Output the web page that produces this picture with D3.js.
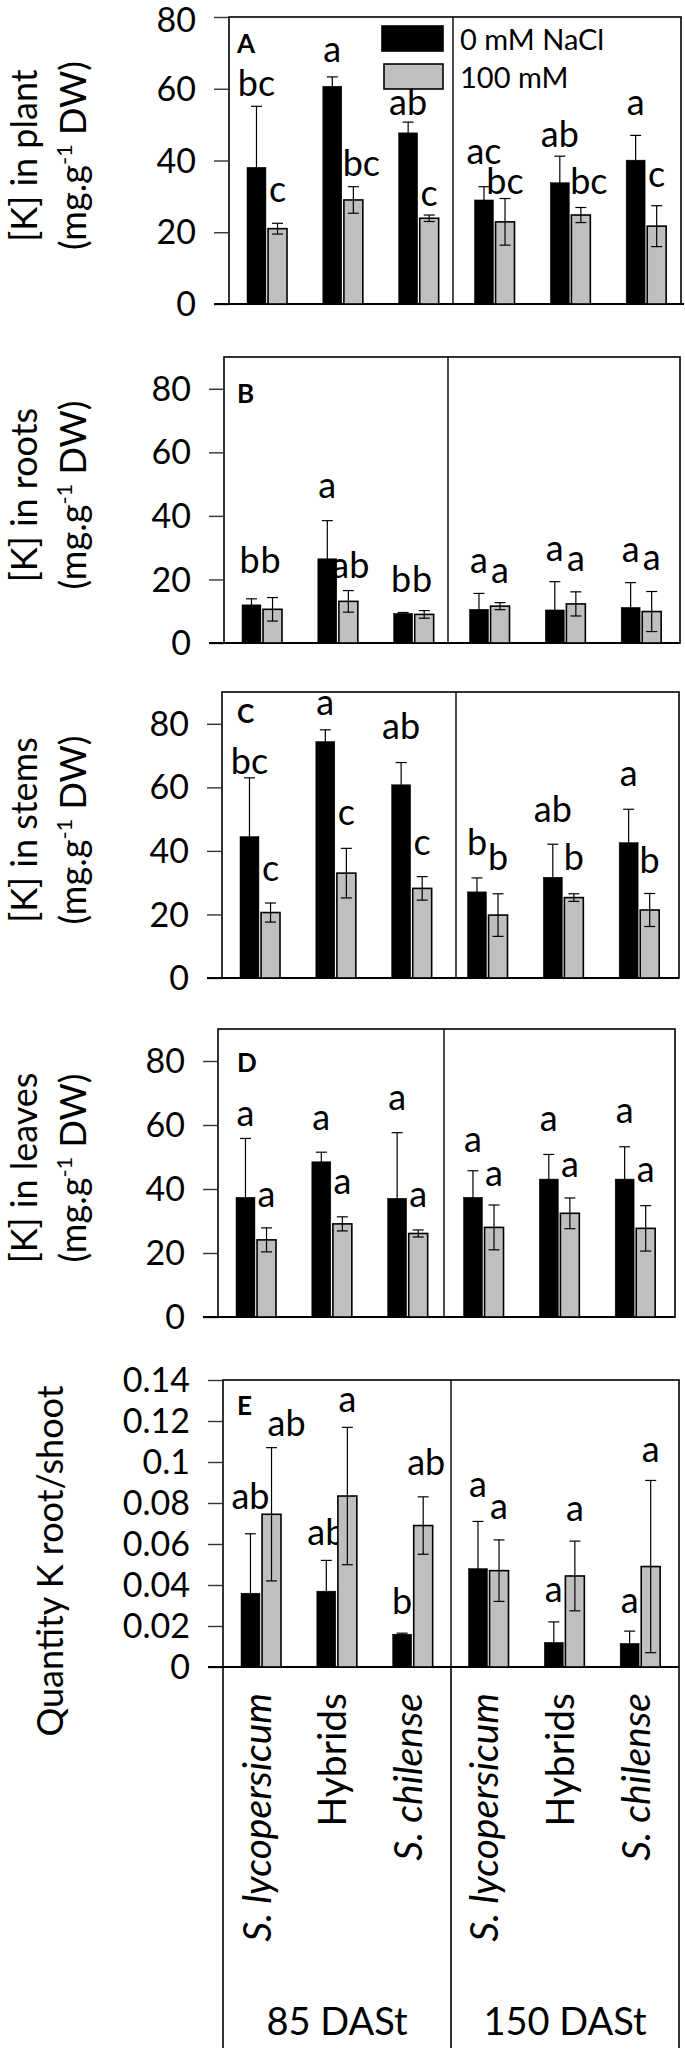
<!DOCTYPE html>
<html>
<head>
<meta charset="utf-8">
<script src="https://cdn.jsdelivr.net/npm/d3@7/dist/d3.min.js"></script>
<style>
  html, body { margin: 0; padding: 0; background: #fff; }
  svg { display: block; font-family: Lato, "Open Sans", sans-serif; }
</style>
</head>
<body>
<svg id="chart" width="685" height="2054"></svg>
<script>
// ---------------- DATA ----------------
const categories = ["S. lycopersicum", "Hybrids", "S. chilense", "S. lycopersicum", "Hybrids", "S. chilense"];
const categoryItalic = [true, false, true, true, false, true];
const stages = ["85 DASt", "150 DASt"];
const seriesNames = ["0 mM NaCl", "100 mM"];

const plantCtrl    = [38.1, 60.7, 47.7, 29.0, 33.8, 40.1];
const plantCtrlErr = [17.0, 2.6, 3.0, 3.7, 7.4, 6.9];
const plantSalt    = [21.0, 29.0, 23.9, 22.9, 24.8, 21.7];
const plantSaltErr = [1.5, 3.7, 0.9, 6.5, 2.1, 5.7];
const plantCtrlSig = ["bc", "a", "ab", "ac", "ab", "a"];
const plantSaltSig = ["c", "bc", "c", "bc", "bc", "c"];

const rootsCtrl    = [12.0, 26.5, 9.3, 10.6, 10.4, 11.2];
const rootsCtrlErr = [1.9, 12.0, 0.3, 5.0, 8.9, 7.8];
const rootsSalt    = [10.6, 13.1, 9.0, 11.6, 12.3, 9.9];
const rootsSaltErr = [3.7, 3.4, 1.2, 1.1, 3.8, 6.3];
const rootsCtrlSig = ["b", "a", "b", "a", "a", "a"];
const rootsSaltSig = ["b", "ab", "b", "a", "a", "a"];

const stemsCtrl    = [44.5, 74.4, 60.8, 27.1, 31.7, 42.6];
const stemsCtrlErr = [18.5, 3.7, 7.0, 4.4, 10.4, 10.5];
const stemsSalt    = [20.6, 33.0, 28.2, 19.8, 25.3, 21.4];
const stemsSaltErr = [3.0, 7.8, 3.7, 6.7, 1.2, 5.2];
const stemsCtrlSig = ["bc", "a", "ab", "b", "ab", "a"];
const stemsSaltSig = ["c", "c", "c", "b", "b", "b"];

const leavesCtrl    = [37.4, 48.5, 37.1, 37.4, 43.1, 43.1];
const leavesCtrlErr = [18.4, 3.0, 20.5, 8.3, 7.7, 10.1];
const leavesSalt    = [24.1, 29.1, 26.1, 28.0, 32.4, 27.7];
const leavesSaltErr = [3.75, 2.2, 1.1, 7.0, 4.8, 7.1];
const leavesCtrlSig = ["a", "a", "a", "a", "a", "a"];
const leavesSaltSig = ["a", "a", "a", "a", "a", "a"];

const ratioCtrl    = [0.036, 0.037, 0.016, 0.048, 0.012, 0.0115];
const ratioCtrlErr = [0.029, 0.015, 0.0005, 0.023, 0.010, 0.006];
const ratioSalt    = [0.0745, 0.0834, 0.069, 0.047, 0.0444, 0.049];
const ratioSaltErr = [0.0325, 0.0335, 0.014, 0.015, 0.017, 0.042];
const ratioCtrlSig = ["ab", "ab", "b", "a", "a", "a"];
const ratioSaltSig = ["ab", "a", "ab", "a", "a", "a"];

const concTicks  = [0, 20, 40, 60, 80];
const ratioTicks = [0, 0.02, 0.04, 0.06, 0.08, 0.1, 0.12, 0.14];

// ---------------- LAYOUT ----------------
const panels = [
  { letter: "A", title: "[K] in plant", ctrl: plantCtrl, ctrlErr: plantCtrlErr, salt: plantSalt, saltErr: plantSaltErr,
    ctrlSig: plantCtrlSig, saltSig: plantSaltSig, max: 80, ticks: concTicks,
    left: 229, right: 681, mid: 453, yZero: 304, yTop: 17, letterDy: 36,
    gapC: [10, 15, 7, 23, 9, 20], gapS: [21, 11, 9, 5, 13, 19], dxS: [0, 8, 0, 0, 8, 0] },
  { letter: "B", title: "[K] in roots", ctrl: rootsCtrl, ctrlErr: rootsCtrlErr, salt: rootsSalt, saltErr: rootsSaltErr,
    ctrlSig: rootsCtrlSig, saltSig: rootsSaltSig, max: 90, ticks: concTicks,
    left: 224, right: 680, mid: 448, yZero: 643, yTop: 357, letterDy: 46,
    gapC: [26, 23, 20, 20, 21, 21], gapS: [25, 13, 19, 20, 21, 22], dxS: [-2, 2, -2, 0, 0, 0], dxC: [-2, 0, -2, 0, 0, 0] },
  { letter: "C", title: "[K] in stems", ctrl: stemsCtrl, ctrlErr: stemsCtrlErr, salt: stemsSalt, saltErr: stemsSaltErr,
    ctrlSig: stemsCtrlSig, saltSig: stemsSaltSig, max: 90, ticks: concTicks,
    left: 222, right: 679, mid: 456, yZero: 978, yTop: 692, letterDy: 31,
    gapC: [4, 15, 24, 23, 22, 23], gapS: [22, 23, 22, 24, 24, 20], dxS: [0, 0, 0, 0, 0, 0] },
  { letter: "D", title: "[K] in leaves", ctrl: leavesCtrl, ctrlErr: leavesCtrlErr, salt: leavesSalt, saltErr: leavesSaltErr,
    ctrlSig: leavesCtrlSig, saltSig: leavesSaltSig, max: 90, ticks: concTicks,
    left: 218, right: 675, mid: 444, yZero: 1317, yTop: 1029, letterDy: 43,
    gapC: [12, 22, 23, 19, 23, 24], gapS: [21, 23, 23, 19, 21, 24], dxS: [0, 0, 0, 0, 0, 0] },
  { letter: "E", title: "Quantity K root/shoot", ctrl: ratioCtrl, ctrlErr: ratioCtrlErr, salt: ratioSalt, saltErr: ratioSaltErr,
    ctrlSig: ratioCtrlSig, saltSig: ratioSaltSig, max: 0.14, ticks: ratioTicks,
    left: 223, right: 679, mid: 451, yZero: 1667, yTop: 1380, letterDy: 35,
    gapC: [25, 15, 19, 24, 20, 18], gapS: [12, 15, 22, 21, 20, 18], dxS: [15, 0, 3, 0, 0, 0] }
];

const FONT_TICK = 34, FONT_SIG = 36, FONT_TITLE = 36, FONT_CAT = 39;
const GRAY = "#bfbfbf";

const svg = d3.select("#chart");
svg.append("rect").attr("width", 685).attr("height", 2054).attr("fill", "#fff");

const idx = d3.range(categories.length);

panels.forEach((p, pi) => {
  const g = svg.append("g");
  const y = d3.scaleLinear().domain([0, p.max]).range([p.yZero, p.yTop]);
  const x = d3.scaleBand().domain(idx).range([p.left, p.left + 455]).padding(0);
  const xs = d3.scaleBand().domain([0, 1]).range([18, 58]).paddingInner(0.1);

  // frame
  g.append("rect")
    .attr("x", p.left).attr("y", p.yTop)
    .attr("width", p.right - p.left).attr("height", p.yZero - p.yTop)
    .attr("fill", "none").attr("stroke", "#000").attr("stroke-width", 1.6);
  g.append("line")
    .attr("x1", p.mid).attr("x2", p.mid).attr("y1", p.yTop).attr("y2", p.yZero)
    .attr("stroke", "#000").attr("stroke-width", 1.4);

  // y axis
  const fmt = v => (p.max < 1 ? String(+v.toFixed(2)) : String(v));
  const axis = d3.axisLeft(y).tickValues(p.ticks).tickFormat(fmt).tickSize(15).tickPadding(18);
  const ag = g.append("g").attr("transform", `translate(${p.left},0)`).call(axis);
  ag.select(".domain").remove();
  ag.selectAll(".tick line").attr("stroke", "#333").attr("stroke-width", 1.4);
  ag.selectAll(".tick text").attr("font-size", FONT_TICK).attr("font-family", "Lato").attr("fill", "#000")
    .attr("dy", d => (pi === 0 && d === p.max) ? "0.42em" : "0.34em");

  // zero baseline
  g.append("line")
    .attr("x1", p.left - 15).attr("x2", p.right + (pi === 0 ? 3 : 0))
    .attr("y1", y(0)).attr("y2", y(0))
    .attr("stroke", "#000").attr("stroke-width", 1.8);

  // bars
  const series = [
    { vals: p.ctrl, errs: p.ctrlErr, sig: p.ctrlSig, fill: "#000", gap: p.gapC, dx: p.dxC || [0,0,0,0,0,0] },
    { vals: p.salt, errs: p.saltErr, sig: p.saltSig, fill: GRAY, gap: p.gapS, dx: p.dxS || [0,0,0,0,0,0] }
  ];
  series.forEach((s, si) => {
    const bx = i => x(i) + xs(si);
    const cx = i => bx(i) + xs.bandwidth() / 2;
    g.selectAll(null).data(idx).enter().append("rect")
      .attr("x", bx).attr("y", i => y(s.vals[i]))
      .attr("width", xs.bandwidth()).attr("height", i => y(0) - y(s.vals[i]))
      .attr("fill", s.fill).attr("stroke", "#000").attr("stroke-width", si === 0 ? 0.5 : 1.6);
    // error bars
    const eg = g.selectAll(null).data(idx).enter().append("g");
    eg.append("line")
      .attr("x1", cx).attr("x2", cx)
      .attr("y1", i => y(s.vals[i] + s.errs[i])).attr("y2", i => y(Math.max(0, s.vals[i] - s.errs[i])))
      .attr("stroke", "#000").attr("stroke-width", 1.2);
    [1, -1].forEach(sign => {
      eg.append("line")
        .attr("x1", i => cx(i) - 5.5).attr("x2", i => cx(i) + 5.5)
        .attr("y1", i => y(Math.max(0, s.vals[i] + sign * s.errs[i])))
        .attr("y2", i => y(Math.max(0, s.vals[i] + sign * s.errs[i])))
        .attr("stroke", "#000").attr("stroke-width", 1.2);
    });
    // significance letters
    g.selectAll(null).data(idx).enter().append("text")
      .attr("x", i => cx(i) + s.dx[i])
      .attr("y", i => y(s.vals[i] + s.errs[i]) - s.gap[i])
      .attr("text-anchor", "middle").attr("font-size", FONT_SIG).attr("fill", "#000")
      .text(i => s.sig[i]);
  });

  // panel letter
  g.append("text").attr("x", 237).attr("y", p.yTop + p.letterDy)
    .attr("font-size", 26).attr("font-weight", "bold").text(p.letter);

  // y title
  const cy = (p.yTop + p.yZero) / 2 - 5;
  if (p.max > 1) {
    g.append("text").attr("transform", `translate(24,${cy}) rotate(-90)`)
      .attr("text-anchor", "middle").attr("dy", "0.35em").attr("font-size", FONT_TITLE).text(p.title);
    const t2 = g.append("text").attr("transform", `translate(73,${cy}) rotate(-90)`)
      .attr("text-anchor", "middle").attr("dy", "0.35em").attr("font-size", FONT_TITLE);
    t2.append("tspan").text("(mg.g");
    t2.append("tspan").attr("font-size", 22).attr("dy", -14).text("-1");
    t2.append("tspan").attr("dy", 14).text(" DW)");
  } else {
    g.append("text").attr("transform", `translate(50,1561) rotate(-90)`)
      .attr("text-anchor", "middle").attr("dy", "0.35em").attr("font-size", FONT_TITLE).text(p.title);
  }

  // category box under last panel
  if (pi === panels.length - 1) {
    [p.left, p.mid, p.right].forEach(xx => {
      g.append("line").attr("x1", xx).attr("x2", xx).attr("y1", y(0)).attr("y2", 2048)
        .attr("stroke", "#000").attr("stroke-width", 1.6);
    });
    g.selectAll(null).data(idx).enter().append("text")
      .attr("transform", i => `translate(${x(i) + x.bandwidth() / 2 - 4},1693) rotate(-90)`)
      .attr("text-anchor", "end").attr("dy", "0.35em")
      .attr("font-size", FONT_CAT)
      .attr("font-style", i => categoryItalic[i] ? "italic" : "normal")
      .text(i => categories[i]);
    const sx = [(p.left + p.mid) / 2, (p.mid + p.right) / 2];
    g.selectAll(null).data(stages).enter().append("text")
      .attr("x", (d, i) => sx[i]).attr("y", 2035)
      .attr("text-anchor", "middle").attr("font-size", FONT_CAT - 1).text(d => d);
  }
});

// legend (in panel A)
const legend = svg.append("g");
const legY = [26, 64];
seriesNames.forEach((name, i) => {
  legend.append("rect").attr("x", i === 0 ? 382 : 384).attr("y", legY[i])
    .attr("width", i === 0 ? 61 : 59).attr("height", 25)
    .attr("fill", i === 0 ? "#000" : GRAY).attr("stroke", "#000").attr("stroke-width", 1.6);
  legend.append("text").attr("x", 460).attr("y", legY[i] + 24)
    .attr("font-size", 29).text(name);
});
</script>
</body>
</html>
